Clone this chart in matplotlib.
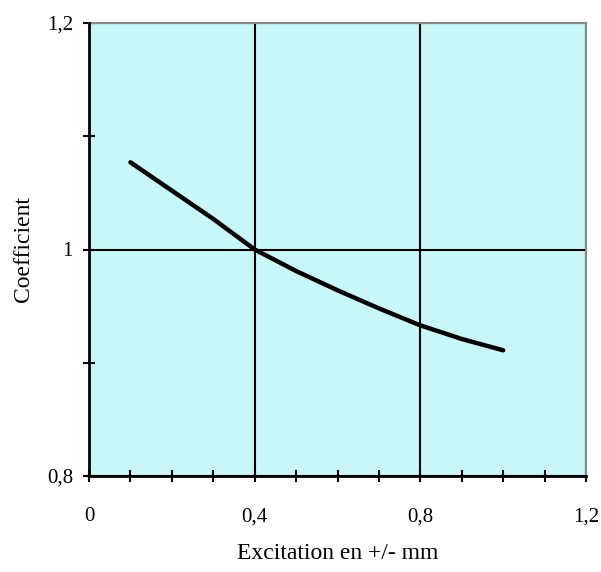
import numpy as np
import matplotlib.pyplot as plt
from matplotlib.ticker import MultipleLocator

plt.rcParams['font.family'] = ['Liberation Serif', 'DejaVu Serif']

# values
excitation = [0.1, 0.2, 0.3, 0.4, 0.5, 0.6, 0.7, 0.8, 0.9, 1.0]
coefficient = [1.077, 1.052, 1.027, 1.000, 0.981, 0.964, 0.948, 0.933, 0.921, 0.911]

x_ticks = [0, 0.4, 0.8, 1.2]
x_labels = ['0', '0,4', '0,8', '1,2']
y_ticks = [0.8, 1.0, 1.2]
y_labels = ['0,8', '1', '1,2']

fig = plt.figure(figsize=(6.01, 5.72), dpi=100)
ax = fig.add_axes([89/601, 96/572, 497/601, 453/572])
ax.set_facecolor('#C8F7F7')

ax.plot(excitation, coefficient, color='black', lw=3.2, solid_capstyle='round',
        solid_joinstyle='round', zorder=3)

ax.set_xlim(0, 1.2)
ax.set_ylim(0.8, 1.2)
ax.set_xticks(x_ticks)
ax.set_xticklabels(x_labels)
ax.set_yticks(y_ticks)
ax.set_yticklabels(y_labels)
ax.xaxis.set_minor_locator(MultipleLocator(0.1))
ax.yaxis.set_minor_locator(MultipleLocator(0.1))

ax.grid(True, which='major', color='black', lw=1.5, zorder=1)
ax.tick_params(which='both', direction='inout', length=9, width=1.5, color='black',
               labelsize=15)
ax.tick_params(axis='x', pad=18)
ax.tick_params(axis='y', pad=7)
ax.tick_params(top=False, right=False, which='both')

for s in ['left', 'bottom']:
    ax.spines[s].set_color('black')
    ax.spines[s].set_linewidth(2)
    ax.spines[s].set_zorder(4)
for s in ['top', 'right']:
    ax.spines[s].set_color('#888888')
    ax.spines[s].set_linewidth(1.5)

ax.set_xlabel('Excitation en +/- mm', fontsize=17, labelpad=12)
ax.set_ylabel('Coefficient', fontsize=17, labelpad=9)

plt.savefig('out.png', dpi=100)
